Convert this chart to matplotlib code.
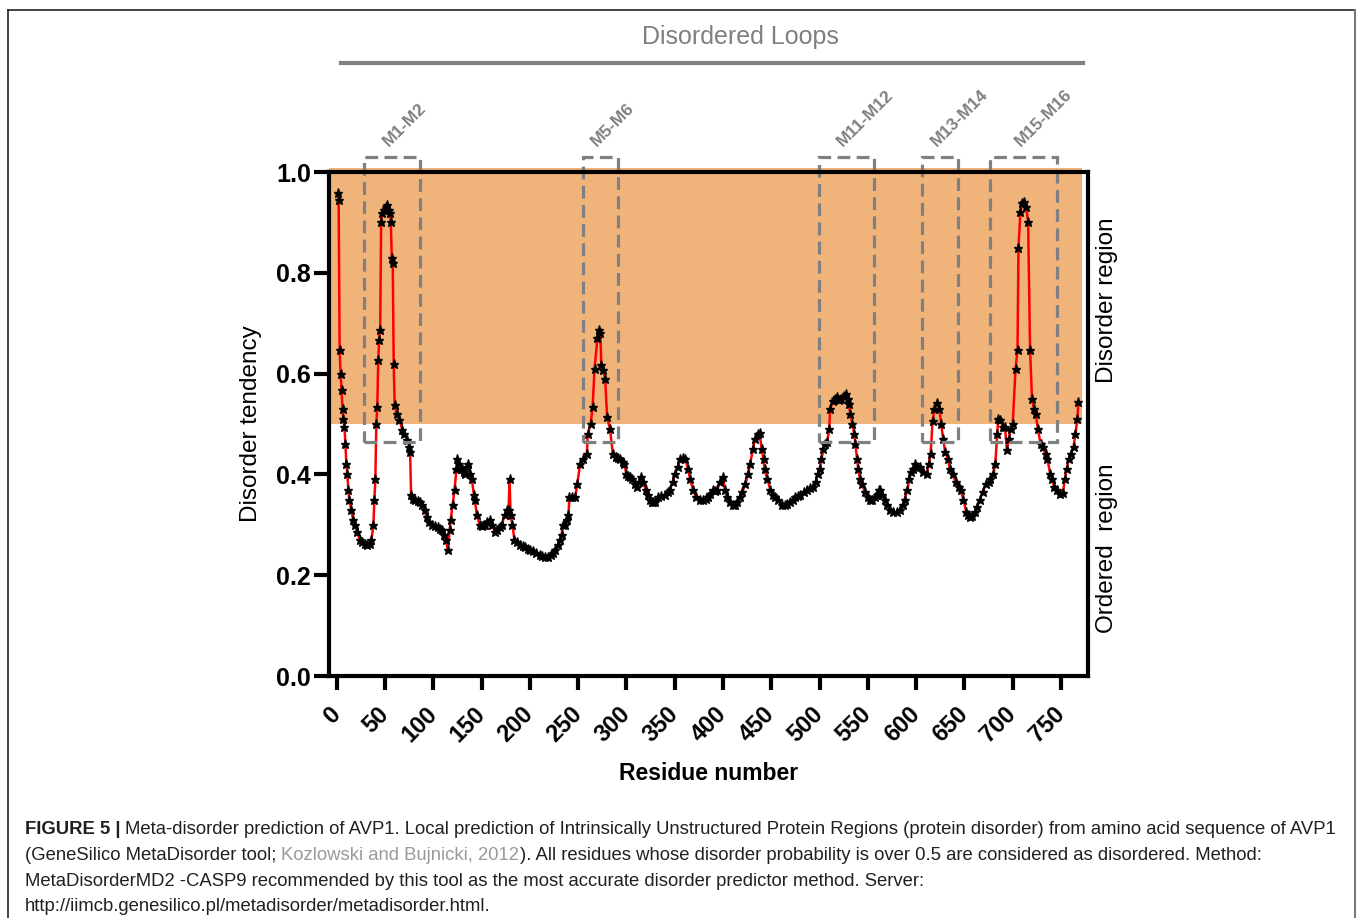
import matplotlib
matplotlib.use("Agg")
import matplotlib.pyplot as plt
from matplotlib.lines import Line2D
from matplotlib.patches import Rectangle

plt.rcParams['font.family'] = ['Liberation Sans', 'DejaVu Sans']

# disorder prediction
residues = [1, 2, 3, 4, 5, 6, 7, 8, 9, 10,
            11, 12, 13, 15, 17, 19, 21, 24, 26, 29,
            31, 34, 36, 38, 39, 40, 41, 42, 43, 44,
            45, 46, 47, 49, 51, 52, 54, 55, 56, 57,
            58, 59, 60, 62, 65, 68, 70, 73, 75, 76,
            77, 79, 81, 84, 86, 88, 91, 93, 96, 99,
            102, 105, 107, 109, 111, 113, 115, 117, 118, 120,
            122, 124, 125, 127, 129, 130, 132, 133, 135, 136,
            138, 140, 142, 143, 145, 148, 150, 152, 154, 156,
            159, 161, 164, 166, 169, 171, 174, 176, 178, 179,
            180, 182, 184, 187, 190, 193, 195, 198, 200, 203,
            206, 210, 213, 216, 219, 222, 224, 226, 229, 231,
            233, 234, 236, 238, 240, 241, 244, 247, 249, 252,
            255, 259, 260, 263, 265, 267, 270, 272, 273, 274,
            276, 278, 280, 283, 286, 289, 291, 293, 296, 298,
            300, 302, 304, 306, 309, 311, 313, 315, 317, 320,
            322, 324, 326, 328, 330, 333, 336, 340, 343, 345,
            348, 350, 353, 356, 359, 361, 364, 366, 369, 372,
            376, 379, 382, 384, 387, 390, 392, 394, 397, 400,
            402, 404, 407, 410, 412, 415, 418, 420, 423, 426,
            428, 431, 433, 436, 438, 440, 442, 443, 446, 449,
            452, 454, 457, 461, 464, 466, 469, 472, 475, 478,
            480, 484, 487, 490, 493, 496, 498, 500, 502, 504,
            506, 508, 510, 511, 514, 516, 518, 520, 522, 525,
            527, 529, 530, 532, 534, 536, 537, 539, 540, 542,
            544, 547, 550, 552, 554, 557, 560, 562, 563, 565,
            568, 570, 573, 576, 580, 583, 586, 588, 591, 593,
            595, 597, 599, 601, 604, 607, 611, 613, 615, 617,
            619, 622, 624, 626, 628, 630, 633, 635, 638, 641,
            644, 646, 649, 652, 654, 656, 658, 661, 663, 666,
            669, 672, 675, 677, 680, 682, 684, 685, 687, 690,
            692, 694, 696, 698, 700, 703, 705, 706, 708, 710,
            712, 714, 716, 718, 720, 722, 724, 726, 729, 731,
            734, 736, 739, 741, 743, 746, 749, 752, 754, 756,
            758, 760, 763, 765, 767, 768]
tendency = [0.958, 0.944, 0.647, 0.600, 0.567, 0.530, 0.510, 0.494, 0.460, 0.420,
            0.400, 0.370, 0.350, 0.330, 0.310, 0.300, 0.285, 0.270, 0.265, 0.262,
            0.260, 0.262, 0.270, 0.300, 0.350, 0.390, 0.500, 0.534, 0.627, 0.667,
            0.687, 0.900, 0.918, 0.925, 0.930, 0.934, 0.925, 0.918, 0.900, 0.830,
            0.820, 0.620, 0.537, 0.520, 0.508, 0.488, 0.480, 0.468, 0.455, 0.445,
            0.360, 0.352, 0.350, 0.348, 0.345, 0.340, 0.330, 0.315, 0.305, 0.300,
            0.298, 0.295, 0.292, 0.290, 0.280, 0.270, 0.250, 0.290, 0.310, 0.340,
            0.370, 0.410, 0.430, 0.420, 0.410, 0.410, 0.405, 0.400, 0.415, 0.420,
            0.400, 0.390, 0.360, 0.350, 0.320, 0.300, 0.298, 0.300, 0.300, 0.305,
            0.310, 0.300, 0.285, 0.290, 0.295, 0.300, 0.320, 0.330, 0.330, 0.390,
            0.320, 0.300, 0.270, 0.265, 0.260, 0.258, 0.255, 0.252, 0.250, 0.248,
            0.245, 0.240, 0.238, 0.237, 0.236, 0.240, 0.245, 0.250, 0.260, 0.270,
            0.280, 0.300, 0.300, 0.310, 0.320, 0.355, 0.355, 0.355, 0.380, 0.420,
            0.430, 0.440, 0.480, 0.500, 0.534, 0.610, 0.670, 0.687, 0.680, 0.617,
            0.607, 0.590, 0.514, 0.490, 0.440, 0.435, 0.432, 0.430, 0.425, 0.420,
            0.400, 0.397, 0.395, 0.390, 0.380, 0.375, 0.385, 0.395, 0.385, 0.370,
            0.360, 0.350, 0.345, 0.345, 0.345, 0.355, 0.357, 0.360, 0.365, 0.370,
            0.385, 0.400, 0.415, 0.430, 0.432, 0.430, 0.410, 0.390, 0.370, 0.355,
            0.350, 0.350, 0.352, 0.355, 0.362, 0.370, 0.368, 0.370, 0.385, 0.395,
            0.370, 0.355, 0.345, 0.340, 0.340, 0.345, 0.355, 0.365, 0.380, 0.400,
            0.420, 0.450, 0.470, 0.480, 0.482, 0.450, 0.430, 0.410, 0.390, 0.370,
            0.360, 0.355, 0.350, 0.340, 0.340, 0.341, 0.345, 0.350, 0.355, 0.358,
            0.360, 0.365, 0.370, 0.373, 0.375, 0.385, 0.400, 0.410, 0.430, 0.450,
            0.460, 0.465, 0.490, 0.530, 0.545, 0.550, 0.554, 0.548, 0.550, 0.555,
            0.560, 0.550, 0.540, 0.520, 0.500, 0.480, 0.460, 0.430, 0.410, 0.390,
            0.380, 0.365, 0.355, 0.350, 0.350, 0.355, 0.360, 0.370, 0.370, 0.360,
            0.350, 0.340, 0.330, 0.325, 0.325, 0.330, 0.340, 0.350, 0.370, 0.390,
            0.405, 0.410, 0.420, 0.415, 0.415, 0.405, 0.400, 0.420, 0.440, 0.505,
            0.530, 0.542, 0.530, 0.500, 0.470, 0.445, 0.430, 0.410, 0.400, 0.385,
            0.375, 0.370, 0.350, 0.325, 0.320, 0.315, 0.318, 0.325, 0.335, 0.350,
            0.365, 0.380, 0.385, 0.390, 0.400, 0.420, 0.480, 0.510, 0.508, 0.494,
            0.495, 0.448, 0.470, 0.490, 0.500, 0.610, 0.647, 0.850, 0.920, 0.938,
            0.940, 0.930, 0.900, 0.647, 0.550, 0.530, 0.520, 0.490, 0.460, 0.455,
            0.440, 0.430, 0.400, 0.390, 0.375, 0.370, 0.362, 0.363, 0.390, 0.410,
            0.430, 0.440, 0.455, 0.480, 0.510, 0.543]

# disordered loops (first / last residue of each dashed box)
loop_names = ['M1-M2', 'M5-M6', 'M11-M12', 'M13-M14', 'M15-M16']
loop_start = [28, 255, 499, 606, 677]
loop_end = [86, 291, 556, 643, 746]

xticks = list(range(0, 800, 50))
yticks = [0.0, 0.2, 0.4, 0.6, 0.8, 1.0]

W, H = 1358, 918
fig = plt.figure(figsize=(W / 100, H / 100), dpi=100)


def fx(px):
    return px / W


def fy(py):
    return 1 - py / H


ax = fig.add_axes([fx(329), fy(676), fx(1088) - fx(329), fy(172) - fy(676)])

# disorder region shading
ax.add_patch(Rectangle((-8, 0.5), 780, 0.508, facecolor='#F0B47B', edgecolor='none',
                       zorder=0, clip_on=False))

ax.plot(residues, tendency, color='red', lw=1.8, zorder=3)
ax.plot(residues, tendency, ls='none', marker='*', ms=6.5, color='black', zorder=4)

# dashed loop boxes + labels
for name, a, b in zip(loop_names, loop_start, loop_end):
    ax.add_patch(Rectangle((a, 0.464), b - a, 1.03 - 0.464, fill=False, edgecolor='#808080',
                           lw=2.3, ls=(0, (4, 2)), zorder=5, clip_on=False))
    ax.text((a + b) / 2 - 1, 1.045, name, rotation=45, rotation_mode='anchor', ha='left',
            va='bottom', color='#808080', fontsize=12.5, fontweight='bold')

ax.set_xlim(-8, 778)
ax.set_ylim(0, 1)
ax.set_xticks(xticks)
ax.set_yticks(yticks)
ax.set_yticklabels(['%.1f' % v for v in yticks], fontsize=18, fontweight='bold')
ax.set_xticklabels([str(v) for v in xticks], fontsize=17, fontweight='bold')
plt.setp(ax.get_xticklabels(), rotation=45, ha='right', va='center', rotation_mode='anchor')
ax.tick_params(axis='x', length=10, width=3, pad=15)
ax.tick_params(axis='y', length=11, width=3, pad=2)
for sp in ax.spines.values():
    sp.set_linewidth(3)
    sp.set_zorder(6)

ax.set_xlabel('Residue number', fontsize=16.5, fontweight='bold', labelpad=11)
ax.set_ylabel('Disorder tendency', fontsize=17.5, labelpad=10)

fig.text(fx(1107), fy(300), 'Disorder region', rotation=90, ha='center', va='center', fontsize=17.5)
fig.text(fx(1107), fy(548), 'Ordered  region', rotation=90, ha='center', va='center', fontsize=17.5)

# header
fig.text(fx(740), fy(37), 'Disordered Loops', ha='center', va='center', fontsize=18, color='#7f7f7f')
fig.add_artist(Line2D([fx(341), fx(1083)], [fy(63), fy(63)], color='#808080', lw=3))

# frame of the figure panel
fig.add_artist(Line2D([fx(8), fx(1355)], [fy(10), fy(10)], color='#222222', lw=1.2))
fig.add_artist(Line2D([fx(8), fx(8)], [fy(10), 0], color='#222222', lw=1.2))
fig.add_artist(Line2D([fx(1355), fx(1355)], [fy(10), 0], color='#777777', lw=1.5))

# caption
cap_size = 13.3
cap_col = '#231F20'

t = fig.text(fx(25), fy(838), 'FIGURE 5 |', fontsize=cap_size, fontweight='bold', color=cap_col,
             ha='left', va='bottom')
ax.annotate('Meta-disorder prediction of AVP1. Local prediction of Intrinsically Unstructured Protein Regions '
            '(protein disorder) from amino acid sequence of AVP1',
            xy=(1, 0), xycoords=t, xytext=(3.5, 0), textcoords='offset points',
            ha='left', va='bottom', fontsize=cap_size, color=cap_col, annotation_clip=False)
t2 = fig.text(fx(25), fy(864), '(GeneSilico MetaDisorder tool;', fontsize=cap_size, color=cap_col,
              ha='left', va='bottom')
t3 = ax.annotate('Kozlowski and Bujnicki, 2012', xy=(1, 0), xycoords=t2, xytext=(3.5, 0),
                 textcoords='offset points', ha='left', va='bottom', fontsize=cap_size,
                 color='#9a9a9a', annotation_clip=False)
ax.annotate('). All residues whose disorder probability is over 0.5 are considered as disordered. Method:',
            xy=(1, 0), xycoords=t3, xytext=(0.5, 0), textcoords='offset points',
            ha='left', va='bottom', fontsize=cap_size, color=cap_col, annotation_clip=False)
fig.text(fx(25), fy(890), 'MetaDisorderMD2 -CASP9 recommended by this tool as the most accurate disorder '
         'predictor method. Server:', fontsize=cap_size, color=cap_col, ha='left', va='bottom')
fig.text(fx(25), fy(915), 'http://iimcb.genesilico.pl/metadisorder/metadisorder.html.',
         fontsize=cap_size, color=cap_col, ha='left', va='bottom')

fig.savefig('out.png', dpi=100)
